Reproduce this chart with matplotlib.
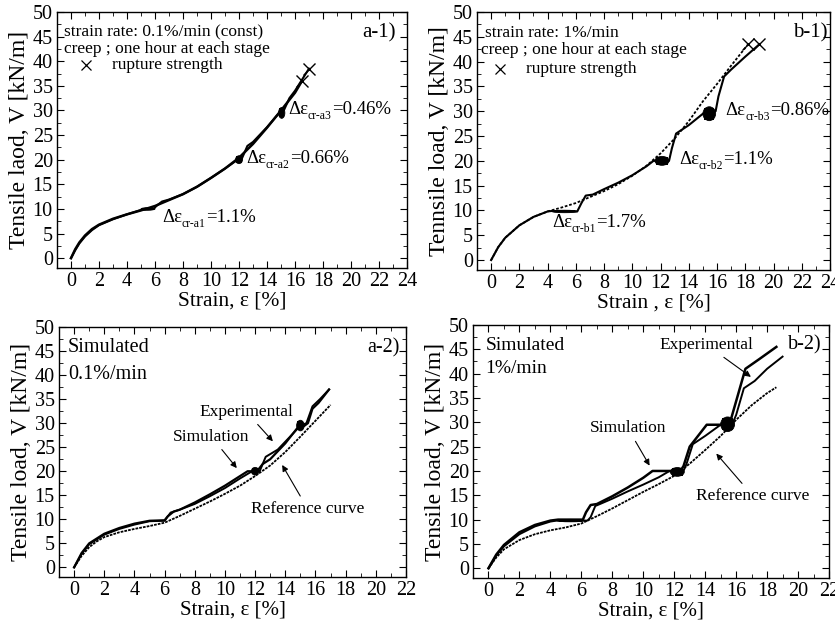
import matplotlib
matplotlib.use("Agg")
import matplotlib.pyplot as plt
from matplotlib.ticker import MultipleLocator
from matplotlib.patches import Ellipse

plt.rcParams['font.family'] = ['Liberation Serif', 'DejaVu Serif']

# ---------------- a-1 data ----------------
a1_const_x = [0, 0.3, 0.6, 1, 1.5, 2, 3, 4, 5, 6, 7, 8, 9, 10, 11, 12, 13, 14, 15, 16, 16.5]
a1_const_y = [0, 1.8, 3.2, 4.6, 5.9, 6.8, 8.0, 8.9, 9.7, 10.6, 11.8, 13.0, 14.5, 16.3, 18.2, 20.4, 23.2, 26.5, 30.0, 33.6, 36.0]
a1_creep_x = [0, 0.3, 0.6, 1, 1.5, 2, 3, 4, 5, 5.9, 6.1, 6.5, 7, 8, 9, 10, 11, 11.9, 12.2, 12.6, 13, 14, 14.9, 15.2, 15.6, 16, 17.0]
a1_creep_y = [0, 1.6, 3.0, 4.4, 5.7, 6.7, 7.9, 8.9, 9.8, 10.0, 10.6, 11.5, 11.9, 13.0, 14.5, 16.3, 18.2, 20.0, 20.2, 22.8, 23.6, 26.6, 29.6, 30.0, 32.5, 34.0, 38.5]
# creep blobs: centre x, centre y, width (strain), height (load)
a1_blob_cx = [5.5, 12.0, 15.05]
a1_blob_cy = [10.0, 20.0, 29.5]
a1_blob_w = [1.0, 0.5, 0.45]
a1_blob_h = [0.5, 1.6, 2.2]
a1_rupt_x = [16.5, 17.0]
a1_rupt_y = [36.0, 38.5]

# ---------------- b-1 data ----------------
b1_const_x = [0, 0.5, 1, 2, 3, 4, 5, 6, 7, 8, 9, 10, 11, 12, 13, 14, 15, 16, 17, 18.2]
b1_const_y = [0, 2.6, 4.5, 7.0, 8.7, 9.8, 10.6, 11.5, 12.7, 13.9, 15.3, 17.0, 19.0, 21.5, 24.5, 28.0, 32.0, 35.5, 39.2, 43.5]
b1_creep_x = [0, 0.5, 1, 2, 3, 4, 4.3, 6.1, 6.4, 6.7, 7.2, 8, 9, 10, 11, 11.5, 12.6, 12.8, 13.1, 14, 15, 15.9, 16.1, 16.5, 17, 18, 19.0]
b1_creep_y = [0, 2.6, 4.5, 7.0, 8.7, 9.8, 9.9, 9.8, 11.5, 13.0, 13.2, 14.3, 15.6, 17.1, 18.9, 20.0, 20.0, 22.5, 25.5, 27.2, 29.5, 30.0, 33.0, 37.0, 38.4, 41.0, 43.5]
b1_blob_cx = [5.2, 12.1, 15.45]
b1_blob_cy = [9.8, 20.0, 29.5]
b1_blob_w = [1.8, 1.0, 0.9]
b1_blob_h = [0.5, 1.8, 2.8]
b1_rupt_x = [18.2, 19.0]
b1_rupt_y = [43.5, 43.5]

# ---------------- a-2 data ----------------
a2_ref_x = [0, 0.5, 1, 1.5, 2, 3, 4, 5, 6, 7, 8, 9, 10, 11, 12, 13, 14, 15, 16, 17.0]
a2_ref_y = [0, 2.4, 4.2, 5.4, 6.3, 7.3, 8.0, 8.6, 9.3, 10.7, 12.2, 13.7, 15.3, 17.0, 19.0, 21.2, 24.0, 27.2, 30.5, 33.8]
a2_exp_x = [0, 0.5, 1, 2, 3, 4, 5, 6.0, 6.4, 7, 8, 9, 10, 11, 11.8, 12.3, 12.7, 13.5, 14.5, 15.0, 15.4, 15.8, 16.3, 16.9]
a2_exp_y = [0, 2.8, 4.8, 6.8, 8.0, 8.9, 9.6, 9.7, 11.4, 12.0, 13.2, 14.8, 16.5, 18.5, 20.0, 20.0, 23.0, 24.5, 27.8, 29.5, 30.0, 33.5, 35.0, 37.0]
a2_sim_x = [0, 0.5, 1, 2, 3, 4, 5, 6.0, 6.2, 6.6, 7, 8, 9, 10, 11, 11.5, 12.0, 12.2, 12.5, 13, 14, 14.8, 15.2, 15.5, 15.8, 16.2, 16.9]
a2_sim_y = [0, 3.0, 5.0, 7.0, 8.2, 9.1, 9.7, 9.8, 10.6, 11.6, 12.0, 13.5, 15.2, 17.0, 19.0, 20.0, 20.0, 20.3, 21.5, 22.5, 25.8, 29.0, 29.3, 30.0, 33.0, 34.2, 37.0]
a2_blob_cx = [12.0, 15.0]
a2_blob_cy = [20.0, 29.5]
a2_blob_w = [0.5, 0.5]
a2_blob_h = [1.6, 2.2]

# ---------------- b-2 data ----------------
b2_ref_x = [0, 0.5, 1, 2, 3, 4, 5, 6, 7, 8, 9, 10, 11, 12, 13, 14, 15, 16, 17, 18, 18.6]
b2_ref_y = [0, 2.2, 3.9, 5.8, 7.0, 7.8, 8.4, 9.2, 10.7, 12.3, 14.0, 15.7, 17.3, 19.0, 21.5, 24.3, 27.2, 30.5, 33.5, 36.0, 37.2]
b2_exp_x = [0, 0.5, 1, 2, 3, 4, 4.4, 6.4, 6.6, 6.9, 7.2, 8, 9, 10, 11, 11.7, 12.6, 12.8, 13.2, 14, 15, 15.8, 16.0, 16.5, 17.2, 18, 19.0]
b2_exp_y = [0, 2.6, 4.5, 7.0, 8.6, 9.6, 9.8, 9.8, 10.5, 12.8, 13.2, 14.3, 15.8, 17.2, 18.7, 20.0, 20.0, 21.5, 25.5, 27.2, 29.5, 30.0, 31.5, 37.0, 38.5, 41.0, 43.5]
b2_sim_x = [0, 0.5, 1, 2, 3, 4, 4.5, 6.1, 6.3, 6.6, 7.0, 8, 9, 10, 10.6, 12.4, 12.6, 13.0, 14.1, 15.5, 15.7, 16.6, 17.5, 18.6]
b2_sim_y = [0, 2.8, 4.8, 7.4, 8.9, 9.8, 10.0, 10.0, 11.5, 13.0, 13.2, 14.8, 16.6, 18.6, 20.0, 20.0, 21.0, 25.0, 29.5, 29.5, 31.0, 41.0, 43.0, 45.5]
b2_blob_cx = [5.3, 12.2, 15.45]
b2_blob_cy = [9.8, 19.8, 29.6]
b2_blob_w = [1.8, 0.9, 0.9]
b2_blob_h = [0.5, 1.8, 3.0]

W, H = 835, 628
fig = plt.figure(figsize=(W / 100, H / 100), dpi=100)


def make_ax(x0, y0, x1, y1, xmax):
    ax = fig.add_axes([x0 / W, 1 - y1 / H, (x1 - x0) / W, (y1 - y0) / H])
    ax.set_xlim(-1, xmax)
    ax.set_ylim(-2, 50)
    ax.xaxis.set_major_locator(MultipleLocator(2))
    ax.xaxis.set_minor_locator(MultipleLocator(1))
    ax.yaxis.set_major_locator(MultipleLocator(5))
    ax.yaxis.set_minor_locator(MultipleLocator(2.5))
    ax.tick_params(which='both', direction='in', top=True, right=True, labelsize=14.5, pad=3)
    ax.tick_params(which='major', length=5)
    ax.tick_params(which='minor', length=3)
    for s in ax.spines.values():
        s.set_linewidth(1.0)
    return ax


def blobs(ax, cx, cy, w, h):
    # creep oscillation zones drawn as dark rounded patches
    for x, y, ww, hh in zip(cx, cy, w, h):
        ax.add_patch(Ellipse((x, y), ww, hh, facecolor='black', edgecolor='black', lw=0.6))
        ax.fill_between([x - ww * 0.4, x + ww * 0.4], y - hh * 0.42, y + hh * 0.42,
                        color='black', lw=0)


def dtext(ax, x, y, sub, val, fs=13.5):
    t1 = ax.text(x, y, 'Δε', fontsize=fs, va='center', ha='left')
    t2 = ax.annotate(sub, xy=(1.0, 0.12), xycoords=t1, fontsize=fs * 0.62,
                     va='center', ha='left')
    ax.annotate('=' + val, xy=(1.0, 0.5), xycoords=(t2, t1), fontsize=fs,
                va='center', ha='left')


arrow = dict(arrowstyle='-|>', color='black', lw=0.8, mutation_scale=9)

# a-1
ax = make_ax(57, 12, 407, 268, 24)
ax.plot(a1_const_x, a1_const_y, color='black', lw=1.8)
ax.plot(a1_creep_x, a1_creep_y, color='black', lw=1.5)
blobs(ax, a1_blob_cx, a1_blob_cy, a1_blob_w, a1_blob_h)
ax.plot(a1_rupt_x, a1_rupt_y, 'x', color='black', ms=8, mew=1.0)
ax.set_xlabel('Strain, ε [%]', fontsize=15.5, labelpad=0)
ax.set_ylabel('Tensile laod, V [kN/m]', fontsize=17, labelpad=2)
ax.text(-0.5, 45.8, 'strain rate: 0.1%/min (const)', fontsize=12.5, va='center')
ax.text(-0.5, 42.5, 'creep ; one hour at each stage', fontsize=12.5, va='center')
ax.plot([1.1], [39.2], 'x', color='black', ms=7, mew=0.9)
ax.text(2.9, 39.2, 'rupture strength', fontsize=12.5, va='center')
ax.text(23.2, 45.8, 'a-1)', fontsize=15, va='center', ha='right')
dtext(ax, 6.5, 8.2, 'cr-a1', '1.1%')
dtext(ax, 12.5, 20.2, 'cr-a2', '0.66%')
dtext(ax, 15.5, 30.2, 'cr-a3', '0.46%')

# b-1
ax = make_ax(477, 12, 830, 270, 24)
ax.plot(b1_const_x, b1_const_y, color='black', lw=1.3, ls=(0, (1.5, 1.0)))
ax.plot(b1_creep_x, b1_creep_y, color='black', lw=1.5)
blobs(ax, b1_blob_cx, b1_blob_cy, b1_blob_w, b1_blob_h)
ax.plot(b1_rupt_x, b1_rupt_y, 'x', color='black', ms=8, mew=1.0)
ax.set_xlabel('Strain , ε [%]', fontsize=15.5, labelpad=0)
ax.set_ylabel('Tennsile load, V [kN/m]', fontsize=17, labelpad=2)
ax.text(-0.4, 45.8, 'strain rate: 1%/min', fontsize=12.5, va='center')
ax.text(-0.7, 42.4, 'creep ; one hour at each stage', fontsize=12.5, va='center')
ax.plot([0.6], [38.6], 'x', color='black', ms=7, mew=0.9)
ax.text(2.5, 38.6, 'rupture strength', fontsize=12.5, va='center')
ax.text(23.8, 45.8, 'b-1)', fontsize=15, va='center', ha='right')
dtext(ax, 4.3, 7.6, 'cr-b1', '1.7%')
dtext(ax, 13.3, 20.2, 'cr-b2', '1.1%')
dtext(ax, 16.6, 30.2, 'cr-b3', '0.86%')

# a-2
ax = make_ax(59, 327, 406, 577, 22)
ax.plot(a2_ref_x, a2_ref_y, color='black', lw=1.3, ls=(0, (1.5, 0.6)))
ax.plot(a2_exp_x, a2_exp_y, color='black', lw=1.4)
ax.plot(a2_sim_x, a2_sim_y, color='black', lw=1.6)
blobs(ax, a2_blob_cx, a2_blob_cy, a2_blob_w, a2_blob_h)
ax.set_xlabel('Strain, ε [%]', fontsize=15, labelpad=0)
ax.set_ylabel('Tensile load, V [kN/m]', fontsize=17, labelpad=2)
ax.text(-0.4, 45.7, 'Simulated', fontsize=14.5, va='center')
ax.text(-0.4, 40.2, '0.1%/min', fontsize=14.5, va='center')
ax.text(21.6, 45.7, 'a-2)', fontsize=14.5, va='center', ha='right')
ax.annotate('Experimental', xy=(13.3, 25.8), xytext=(11.4, 32.4), fontsize=12.5,
            ha='center', va='center', arrowprops=arrow)
ax.annotate('Simulation', xy=(10.9, 20.2), xytext=(9.1, 27.2), fontsize=12.5,
            ha='center', va='center', arrowprops=arrow)
ax.annotate('Reference curve', xy=(13.7, 21.8), xytext=(15.5, 12.1), fontsize=12.5,
            ha='center', va='center', arrowprops=arrow)

# b-2
ax = make_ax(473, 325, 829, 578, 22)
ax.plot(b2_ref_x, b2_ref_y, color='black', lw=1.3, ls=(0, (1.5, 0.6)))
ax.plot(b2_exp_x, b2_exp_y, color='black', lw=1.4)
ax.plot(b2_sim_x, b2_sim_y, color='black', lw=1.8)
blobs(ax, b2_blob_cx, b2_blob_cy, b2_blob_w, b2_blob_h)
ax.set_xlabel('Strain, ε [%]', fontsize=15, labelpad=0)
ax.set_ylabel('Tensile load, V [kN/m]', fontsize=17, labelpad=2)
ax.text(-0.2, 45.7, 'Simulated', fontsize=14, va='center')
ax.text(-0.2, 41.0, '1%/min', fontsize=14, va='center')
ax.text(21.5, 46.0, 'b-2)', fontsize=14.5, va='center', ha='right')
ax.annotate('Experimental', xy=(17.1, 39.0), xytext=(14.1, 45.9), fontsize=12.5,
            ha='center', va='center', arrowprops=arrow)
ax.annotate('Simulation', xy=(10.5, 20.6), xytext=(9.0, 28.8), fontsize=12.5,
            ha='center', va='center', arrowprops=arrow)
ax.annotate('Reference curve', xy=(14.6, 24.0), xytext=(17.1, 14.8), fontsize=12.5,
            ha='center', va='center', arrowprops=arrow)

fig.savefig('out.png', dpi=100)
